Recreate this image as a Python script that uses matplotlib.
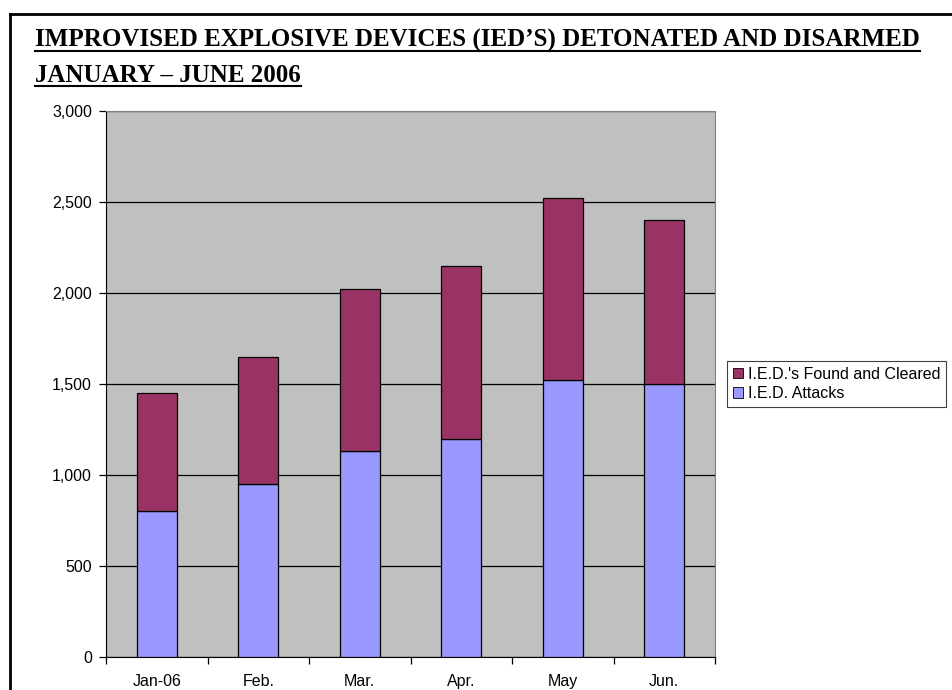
import matplotlib
matplotlib.use('Agg')
import matplotlib.pyplot as plt
from matplotlib.lines import Line2D
from matplotlib.patches import Patch
from matplotlib.ticker import FuncFormatter, FixedLocator

months = ['Jan-06', 'Feb.', 'Mar.', 'Apr.', 'May', 'Jun.']
attacks = [800, 950, 1130, 1200, 1520, 1500]
found_cleared = [650, 700, 890, 950, 1000, 900]
title1 = 'IMPROVISED EXPLOSIVE DEVICES (IED\u2019S) DETONATED AND DISARMED'
title2 = 'JANUARY \u2013 JUNE 2006'

W, H = 952, 690
plt.rcParams['font.family'] = 'Liberation Sans'

fig = plt.figure(figsize=(W / 100, H / 100), dpi=100)
ax = fig.add_axes([106 / W, 1 - 657 / H, (715 - 106) / W, (657 - 111) / H])
ax.set_facecolor('#C0C0C0')

x = list(range(len(months)))
ax.bar(x, attacks, width=0.395, color='#9999FF', edgecolor='black', linewidth=0.9, zorder=3)
ax.bar(x, found_cleared, width=0.395, bottom=attacks, color='#993366', edgecolor='black', linewidth=0.9, zorder=3)

ax.set_xlim(-0.5, 5.5)
ax.set_ylim(0, 3000)
ax.set_yticks(range(0, 3001, 500))
ax.yaxis.set_major_formatter(FuncFormatter(lambda v, p: f'{int(v):,}'))
ax.grid(axis='y', color='black', linewidth=0.9, zorder=1)
ax.set_axisbelow(True)

ax.xaxis.set_major_locator(FixedLocator([i - 0.5 for i in range(7)]))
ax.xaxis.set_minor_locator(FixedLocator(x))
ax.set_xticklabels([''] * 7)
ax.set_xticklabels(months, minor=True)
ax.tick_params(axis='x', which='major', length=5, width=0.9, color='black')
ax.tick_params(axis='x', which='minor', length=0, pad=12, labelsize=11.5)
ax.tick_params(axis='y', length=5, width=0.9, pad=5, labelsize=11.5)

for s in ['top', 'right']:
    ax.spines[s].set_color('#808080')
for s in ['left', 'bottom']:
    ax.spines[s].set_color('black')

handles = [Patch(facecolor='#993366', edgecolor='black', linewidth=0.6),
           Patch(facecolor='#9999FF', edgecolor='black', linewidth=0.6)]
leg = ax.legend(handles, ["I.E.D.'s Found and Cleared", 'I.E.D. Attacks'],
                loc='upper left', bbox_to_anchor=(727 / W, 1 - 361 / H),
                bbox_transform=fig.transFigure, fontsize=11.5, fancybox=False,
                edgecolor='#404040', framealpha=1, borderpad=0.35, borderaxespad=0,
                handlelength=0.65, handleheight=0.65, handletextpad=0.3, labelspacing=0.3)
leg.get_frame().set_linewidth(0.8)

# outer border
fig.add_artist(Line2D([10 / W, 10 / W], [0, 1 - 14 / H], color='black', lw=2, transform=fig.transFigure))
fig.add_artist(Line2D([10 / W, 1], [1 - 14 / H, 1 - 14 / H], color='black', lw=2, transform=fig.transFigure))

# underlined title
t1 = fig.text(35 / W, 1 - 47 / H, title1, family='Liberation Serif', weight='bold', fontsize=18, va='baseline')
t2 = fig.text(35 / W, 1 - 82 / H, title2, family='Liberation Serif', weight='bold', fontsize=18, va='baseline')
fig.canvas.draw()
r = fig.canvas.get_renderer()
for t, yl in [(t1, 50.5), (t2, 85.5)]:
    bb = t.get_window_extent(r)
    fig.add_artist(Line2D([bb.x0 / W, bb.x1 / W], [1 - yl / H, 1 - yl / H], color='black', lw=1.5,
                          transform=fig.transFigure))

fig.savefig('out.png', dpi=100)
